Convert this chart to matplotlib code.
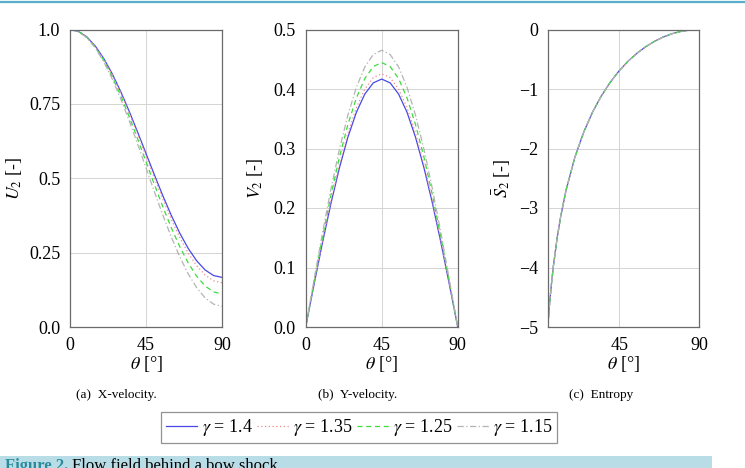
import matplotlib
matplotlib.use('Agg')
import matplotlib.pyplot as plt
from matplotlib.patches import Rectangle
from matplotlib.lines import Line2D

plt.rcParams['font.family'] = ['Liberation Serif', 'DejaVu Serif']
plt.rcParams['mathtext.fontset'] = 'stix'
plt.rcParams['axes.unicode_minus'] = True

# data
gammas = ['1.4', '1.35', '1.25', '1.15']
theta = [0, 5, 10, 15, 20, 25, 30, 35, 40, 45, 50, 55, 60, 65, 70, 75, 80, 85, 90]

U2_140 = [1.0, 0.9937, 0.9749, 0.9442, 0.9025, 0.8512, 0.7917, 0.7258, 0.6557, 0.5833,
          0.5110, 0.4408, 0.3750, 0.3155, 0.2641, 0.2225, 0.1918, 0.1730, 0.1667]
U2_135 = [1.0, 0.9935, 0.9743, 0.9430, 0.9004, 0.8480, 0.7872, 0.7200, 0.6484, 0.5745,
          0.5006, 0.4289, 0.3617, 0.3009, 0.2485, 0.2059, 0.1746, 0.1554, 0.1489]
U2_125 = [1.0, 0.9932, 0.9732, 0.9405, 0.8960, 0.8412, 0.7778, 0.7076, 0.6327, 0.5556,
          0.4784, 0.4035, 0.3333, 0.2699, 0.2151, 0.1707, 0.1379, 0.1179, 0.1111]
U2_115 = [1.0, 0.9929, 0.9720, 0.9377, 0.8912, 0.8339, 0.7674, 0.6940, 0.6157, 0.5349,
          0.4541, 0.3758, 0.3023, 0.2359, 0.1786, 0.1321, 0.0978, 0.0768, 0.0698]

V2_140 = [0.0, 0.0724, 0.1425, 0.2083, 0.2678, 0.3192, 0.3608, 0.3915, 0.4103, 0.4167,
          0.4103, 0.3915, 0.3608, 0.3192, 0.2678, 0.2083, 0.1425, 0.0724, 0.0]
V2_135 = [0.0, 0.0739, 0.1455, 0.2128, 0.2735, 0.3260, 0.3685, 0.3999, 0.4191, 0.4255,
          0.4191, 0.3999, 0.3685, 0.3260, 0.2735, 0.2128, 0.1455, 0.0739, 0.0]
V2_125 = [0.0, 0.0772, 0.1520, 0.2222, 0.2857, 0.3405, 0.3849, 0.4176, 0.4377, 0.4444,
          0.4377, 0.4176, 0.3849, 0.3405, 0.2857, 0.2222, 0.1520, 0.0772, 0.0]
V2_115 = [0.0, 0.0808, 0.1591, 0.2326, 0.2990, 0.3563, 0.4028, 0.4371, 0.4580, 0.4651,
          0.4580, 0.4371, 0.4028, 0.3563, 0.2990, 0.2326, 0.1591, 0.0808, 0.0]

theta_s = [5, 6, 7, 8, 10, 12, 15, 20, 25, 30, 35, 40, 45, 50, 55, 60, 65, 70, 75, 80, 85, 90]
S2 = [-4.880, -4.517, -4.210, -3.944, -3.501, -3.141, -2.703, -2.146, -1.723, -1.386, -1.112,
      -0.884, -0.693, -0.533, -0.399, -0.288, -0.197, -0.124, -0.069, -0.031, -0.008, 0.0]

U2 = [U2_140, U2_135, U2_125, U2_115]
V2 = [V2_140, V2_135, V2_125, V2_115]

styles = [dict(color='#4848e8', ls='-', lw=0.9),
          dict(color='#f08c8c', ls=(0, (1, 2)), lw=0.9),
          dict(color='#3cdc3c', ls=(0, (4, 3)), lw=0.9),
          dict(color='#b4b4b4', ls=(0, (5, 2, 1, 2)), lw=0.9)]

W, H = 745, 468
fig = plt.figure(figsize=(W / 100, H / 100), dpi=100)


def px_axes(x0, x1, y0, y1):
    return fig.add_axes([x0 / W, 1 - y1 / H, (x1 - x0) / W, (y1 - y0) / H])


def style_axes(ax):
    ax.grid(True, color='#d4d4d4', lw=0.7)
    ax.set_axisbelow(True)
    for s in ax.spines.values():
        s.set_color('#6a6a6a')
        s.set_linewidth(0.9)
    ax.tick_params(length=0, labelsize=13, pad=7, colors='black')


axa = px_axes(70, 222, 29.5, 327)
axb = px_axes(305.7, 457.7, 29.5, 327)
axc = px_axes(548.3, 699, 29.5, 327)

for i, g in enumerate(gammas):
    axa.plot(theta, U2[i], label=r'$\gamma$ = ' + g, **styles[i])
    axb.plot(theta, V2[i], **styles[i])
    axc.plot(theta_s, S2, **styles[i])

axa.set_xlim(0, 90)
axa.set_ylim(0, 1)
axa.set_xticks([0, 45, 90])
axa.set_yticks([0, 0.25, 0.5, 0.75, 1.0])
axa.set_yticklabels(['0.0', '0.25', '0.5', '0.75', '1.0'])
axa.set_ylabel(r'$U_2$ [-]', fontsize=13)
axa.yaxis.set_label_coords(-0.368, 0.5)

axb.set_xlim(0, 90)
axb.set_ylim(0, 0.5)
axb.set_xticks([0, 45, 90])
axb.set_yticks([0, 0.1, 0.2, 0.3, 0.4, 0.5])
axb.set_yticklabels(['0.0', '0.1', '0.2', '0.3', '0.4', '0.5'])
axb.set_ylabel(r'$V_2$ [-]', fontsize=13)
axb.yaxis.set_label_coords(-0.334, 0.5)

axc.set_xlim(5, 90)
axc.set_ylim(-5, 0)
axc.set_xticks([45, 90])
axc.set_yticks([0, -1, -2, -3, -4, -5])
axc.set_yticklabels(['0', '\u22121', '\u22122', '\u22123', '\u22124', '\u22125'])
axc.set_ylabel(r'$\bar{S}_2$ [-]', fontsize=13)
axc.yaxis.set_label_coords(-0.307, 0.5)

for ax in (axa, axb, axc):
    style_axes(ax)
    ax.yaxis.label.set_va('center')
    ax.set_xlabel(r'$\theta$ [°]', fontsize=13)
    ax.xaxis.set_label_coords(0.5, -0.125)
    ax.xaxis.label.set_va('center')

fig.text(116 / W, 1 - 395 / H, '(a)  X-velocity.', ha='center', va='center', fontsize=9.5)
fig.text(358 / W, 1 - 395 / H, '(b)  Y-velocity.', ha='center', va='center', fontsize=9.5)
fig.text(601 / W, 1 - 395 / H, '(c)  Entropy', ha='center', va='center', fontsize=9.5)

handles, labels = axa.get_legend_handles_labels()
leg = fig.legend(handles, labels, loc='center', bbox_to_anchor=(359 / W, 1 - 427.5 / H),
                 ncol=4, fontsize=13, frameon=True, fancybox=False, handlelength=1.75,
                 handletextpad=0.25, columnspacing=0.25, borderpad=0.25, borderaxespad=0)
leg.get_frame().set_edgecolor('#777777')
leg.get_frame().set_linewidth(0.9)

# page decoration: top rule and caption band
fig.add_artist(Line2D([0, 1], [1 - 1.5 / H, 1 - 1.5 / H], transform=fig.transFigure,
                      color='#5aaecb', lw=1.6))
fig.add_artist(Rectangle((0, 0), 712 / W, 12.5 / H, transform=fig.transFigure,
                         facecolor='#b9dde7', edgecolor='none'))
t1 = fig.text(5 / W, 1 - 458 / H, 'Figure 2. ', color='#2a8b9c', fontsize=12,
              va='top', ha='left', fontweight='bold')
fig.canvas.draw()
bb = t1.get_window_extent()
fig.text(bb.x1 / W, 1 - 458 / H, 'Flow field behind a bow shock.', color='black',
         fontsize=12, va='top', ha='left')

fig.savefig('out.png', dpi=100)
